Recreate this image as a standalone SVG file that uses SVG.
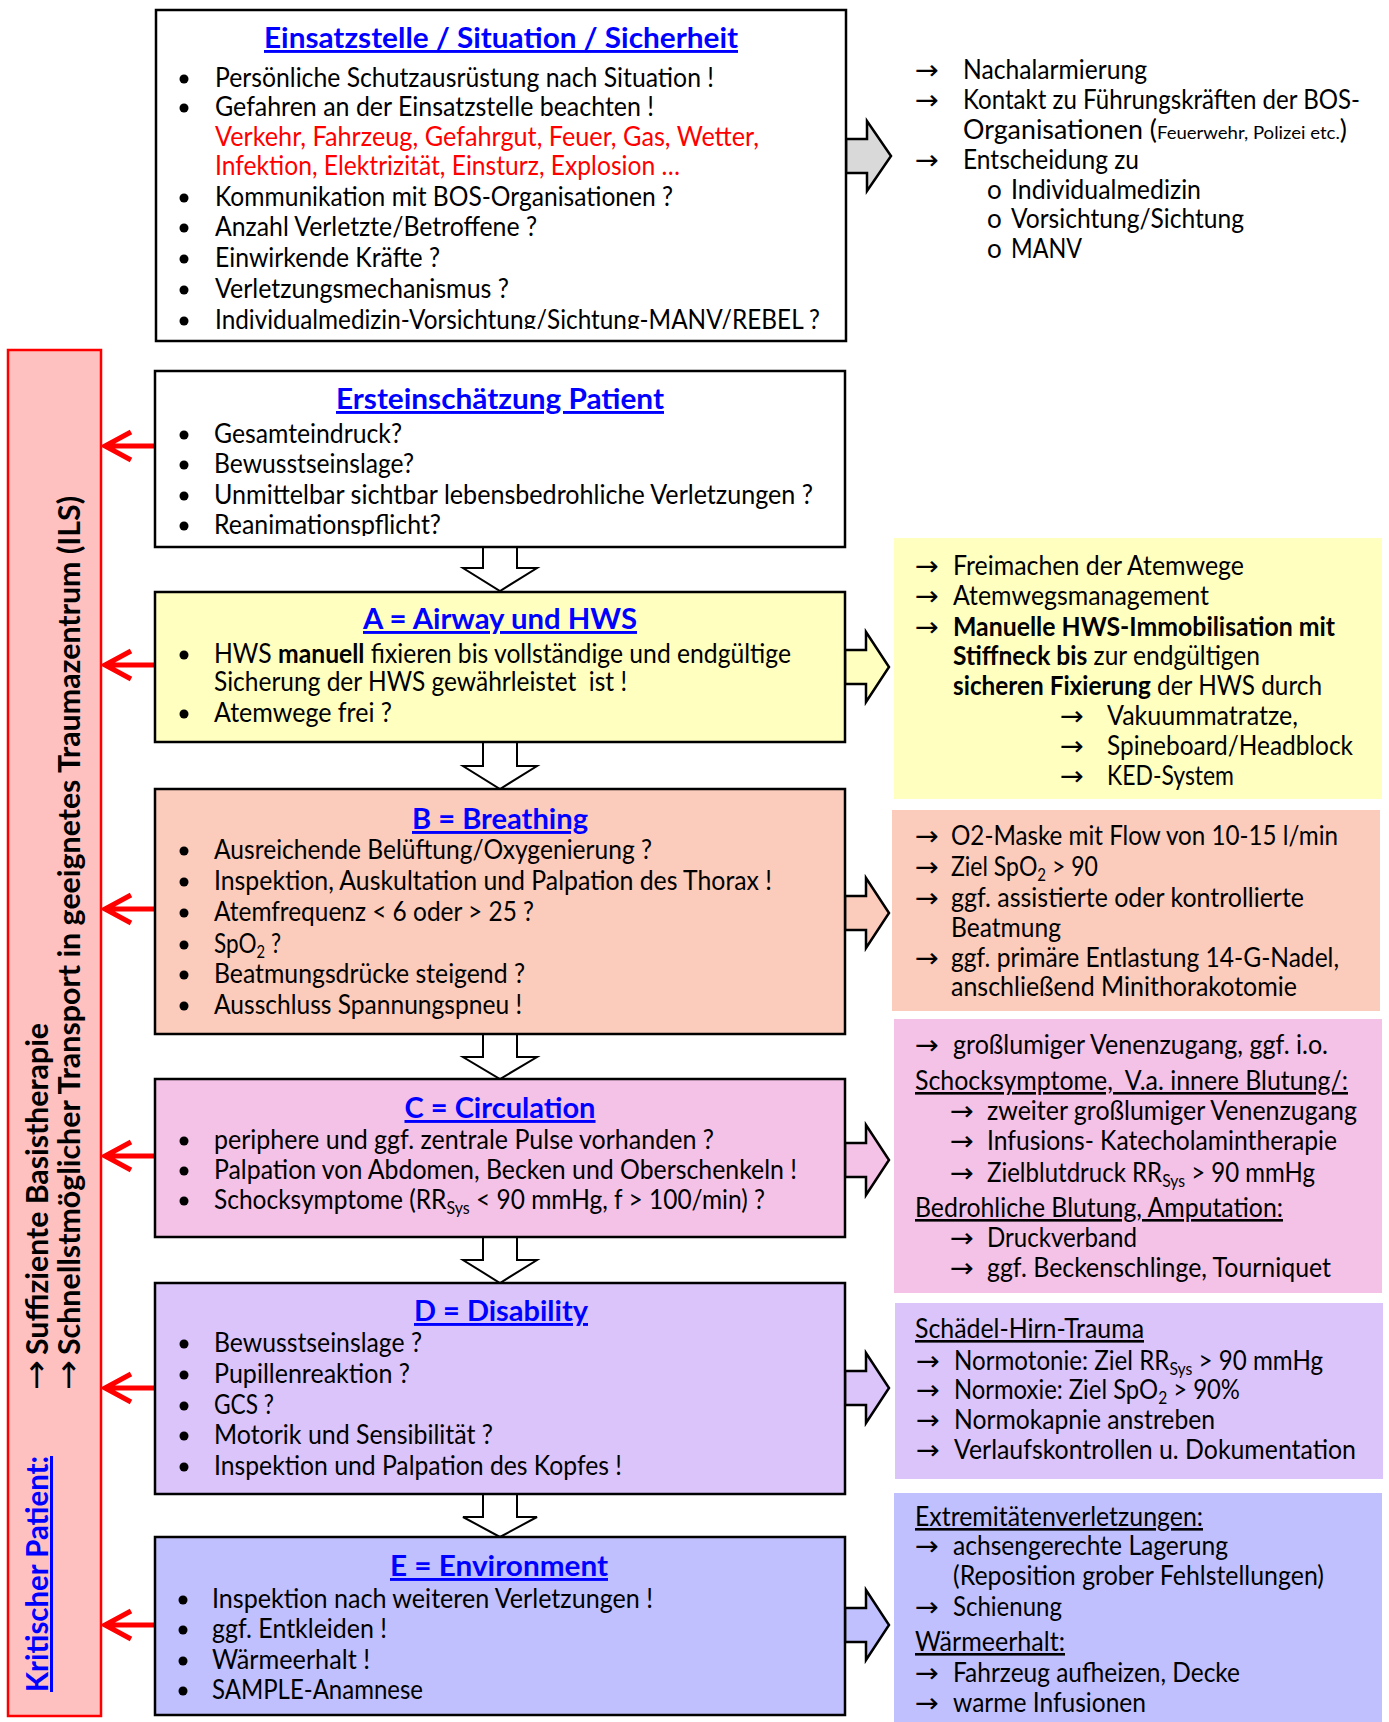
<svg xmlns="http://www.w3.org/2000/svg" width="1389" height="1722" viewBox="0 0 1389 1722">
<style>
.t{font-family:Lato,"Liberation Sans",sans-serif;font-size:26px;fill:#000}
.ti{font-family:Lato,"Liberation Sans",sans-serif;font-weight:bold;font-size:29px;fill:#0000FF;text-decoration:underline;text-anchor:middle}
.r{fill:#FF0000}
.b{font-weight:bold}
.u{text-decoration:underline}
.ar{font-family:"DejaVu Sans",sans-serif;font-size:27px;fill:#000}
.box{stroke:#000;stroke-width:2.5}
.da{fill:#fff;stroke:#000;stroke-width:2}
.ra{stroke:#000;stroke-width:2.5}
.red{stroke:#FF0000;stroke-width:5;fill:none}
.vt{font-family:Lato,"Liberation Sans",sans-serif;font-weight:bold;font-size:30px;fill:#000}
.bl{fill:#000}
</style>
<defs>
<clipPath id="c1"><rect x="156" y="10" width="690" height="319"/></clipPath>
<clipPath id="c2"><rect x="155" y="371" width="690" height="165"/></clipPath>
</defs>

<g id="bar">
<rect x="8" y="350" width="93" height="1366" fill="#FFC0C0" stroke="#FF0000" stroke-width="2.5"/>
<text class="vt u" transform="translate(48,1692) rotate(-90)" style="fill:#0000FF" textLength="236" lengthAdjust="spacingAndGlyphs">Kritischer Patient:</text>
<text class="ar" transform="translate(47,1390) rotate(-90)" style="font-size:32px" textLength="30" lengthAdjust="spacingAndGlyphs">→</text>
<text class="vt" transform="translate(48,1355) rotate(-90)" textLength="332" lengthAdjust="spacingAndGlyphs">Suffiziente Basistherapie</text>
<text class="ar" transform="translate(79,1390) rotate(-90)" style="font-size:32px" textLength="30" lengthAdjust="spacingAndGlyphs">→</text>
<text class="vt" transform="translate(80,1355) rotate(-90)" textLength="859" lengthAdjust="spacingAndGlyphs">Schnellstmöglicher Transport in geeignetes Traumazentrum (ILS)</text>
</g>

<g id="connectors">
<polygon class="ra" fill="#D9D9D9" points="846,139 867,139 867,121 891,156 867,191 867,173 846,173"/>
<polygon class="ra" fill="#FFFFC0" points="845,650 866,650 866,632 889,667 866,702 866,684 845,684"/>
<polygon class="ra" fill="#FBCBBB" points="845,896 866,896 866,878 889,913 866,948 866,930 845,930"/>
<polygon class="ra" fill="#F3C2E6" points="845,1143 866,1143 866,1125 889,1160 866,1195 866,1177 845,1177"/>
<polygon class="ra" fill="#DAC4FA" points="845,1371 866,1371 866,1353 889,1388 866,1423 866,1405 845,1405"/>
<polygon class="ra" fill="#C0C0FF" points="845,1608 866,1608 866,1590 889,1625 866,1660 866,1642 845,1642"/>
<polygon class="da" points="483,547 517,547 517,568 537,568 500,591 463,568 483,568"/>
<polygon class="da" points="483,742 517,742 517,766 537,766 500,789 463,766 483,766"/>
<polygon class="da" points="483,1034 517,1034 517,1057 537,1057 500,1079 463,1057 483,1057"/>
<polygon class="da" points="483,1237 517,1237 517,1260 537,1260 500,1283 463,1260 483,1260"/>
<polygon class="da" points="483,1494 517,1494 517,1517 537,1517 500,1537 463,1517 483,1517"/>
<path class="red" d="M155,446 H105 M131,432 L105,446 L131,460"/>
<path class="red" d="M155,665 H105 M131,651 L105,665 L131,679"/>
<path class="red" d="M155,909 H105 M131,895 L105,909 L131,923"/>
<path class="red" d="M155,1156 H105 M131,1142 L105,1156 L131,1170"/>
<path class="red" d="M155,1388 H105 M131,1374 L105,1388 L131,1402"/>
<path class="red" d="M155,1625 H105 M131,1611 L105,1625 L131,1639"/>
</g>

<g id="box-einsatzstelle">
<rect class="box" x="156" y="10" width="690" height="331" fill="#FFFFFF"/>
<text class="ti" x="501" y="48" textLength="474" lengthAdjust="spacingAndGlyphs">Einsatzstelle / Situation / Sicherheit</text>
<g clip-path="url(#c1)">
<circle class="bl" cx="184" cy="79" r="4.5"/><text class="t" x="215" y="87" textLength="499" lengthAdjust="spacingAndGlyphs">Persönliche Schutzausrüstung nach Situation !</text>
<circle class="bl" cx="184" cy="108" r="4.5"/><text class="t" x="215" y="116" textLength="439" lengthAdjust="spacingAndGlyphs">Gefahren an der Einsatzstelle beachten !</text>
<text class="t r" x="215" y="146" textLength="544" lengthAdjust="spacingAndGlyphs">Verkehr, Fahrzeug, Gefahrgut, Feuer, Gas, Wetter,</text>
<text class="t r" x="215" y="175" textLength="465" lengthAdjust="spacingAndGlyphs">Infektion, Elektrizität, Einsturz, Explosion …</text>
<circle class="bl" cx="184" cy="198" r="4.5"/><text class="t" x="215" y="206" textLength="458" lengthAdjust="spacingAndGlyphs">Kommunikation mit BOS-Organisationen ?</text>
<circle class="bl" cx="184" cy="228" r="4.5"/><text class="t" x="215" y="236" textLength="322" lengthAdjust="spacingAndGlyphs">Anzahl Verletzte/Betroffene ?</text>
<circle class="bl" cx="184" cy="259" r="4.5"/><text class="t" x="215" y="267" textLength="225" lengthAdjust="spacingAndGlyphs">Einwirkende Kräfte ?</text>
<circle class="bl" cx="184" cy="290" r="4.5"/><text class="t" x="215" y="298" textLength="294" lengthAdjust="spacingAndGlyphs">Verletzungsmechanismus ?</text>
<circle class="bl" cx="184" cy="321" r="4.5"/><text class="t" x="215" y="329" textLength="605" lengthAdjust="spacingAndGlyphs">Individualmedizin-Vorsichtung/Sichtung-MANV/REBEL ?</text>
</g>
</g>

<g id="list-einsatzstelle">
<text class="ar" x="915" y="79" textLength="24" lengthAdjust="spacingAndGlyphs">→</text><text class="t" x="963" y="79" textLength="184" lengthAdjust="spacingAndGlyphs">Nachalarmierung</text>
<text class="ar" x="915" y="109" textLength="24" lengthAdjust="spacingAndGlyphs">→</text><text class="t" x="963" y="109" textLength="397" lengthAdjust="spacingAndGlyphs">Kontakt zu Führungskräften der BOS-</text>
<text class="t" x="963" y="139" textLength="384" lengthAdjust="spacingAndGlyphs">Organisationen (<tspan style="font-size:18px">Feuerwehr, Polizei etc.</tspan>)</text>
<text class="ar" x="915" y="169" textLength="24" lengthAdjust="spacingAndGlyphs">→</text><text class="t" x="963" y="169" textLength="176" lengthAdjust="spacingAndGlyphs">Entscheidung zu</text>
<text class="t" x="987" y="199">o</text><text class="t" x="1011" y="199" textLength="190" lengthAdjust="spacingAndGlyphs">Individualmedizin</text>
<text class="t" x="987" y="228">o</text><text class="t" x="1011" y="228" textLength="233" lengthAdjust="spacingAndGlyphs">Vorsichtung/Sichtung</text>
<text class="t" x="987" y="258">o</text><text class="t" x="1011" y="258" textLength="71" lengthAdjust="spacingAndGlyphs">MANV</text>
</g>

<g id="box-ersteinschaetzung">
<rect class="box" x="155" y="371" width="690" height="176" fill="#FFFFFF"/>
<text class="ti" x="500" y="409" textLength="328" lengthAdjust="spacingAndGlyphs">Ersteinschätzung Patient</text>
<g clip-path="url(#c2)">
<circle class="bl" cx="184" cy="435" r="4.5"/><text class="t" x="214" y="443" textLength="188" lengthAdjust="spacingAndGlyphs">Gesamteindruck?</text>
<circle class="bl" cx="184" cy="465" r="4.5"/><text class="t" x="214" y="473" textLength="200" lengthAdjust="spacingAndGlyphs">Bewusstseinslage?</text>
<circle class="bl" cx="184" cy="496" r="4.5"/><text class="t" x="214" y="504" textLength="599" lengthAdjust="spacingAndGlyphs">Unmittelbar sichtbar lebensbedrohliche Verletzungen ?</text>
<circle class="bl" cx="184" cy="526" r="4.5"/><text class="t" x="214" y="534" textLength="227" lengthAdjust="spacingAndGlyphs">Reanimationspflicht?</text>
</g>
</g>

<g id="box-airway">
<rect class="box" x="155" y="592" width="690" height="150" fill="#FFFFC0"/>
<text class="ti" x="500" y="629" textLength="274" lengthAdjust="spacingAndGlyphs">A = Airway und HWS</text>
<circle class="bl" cx="184" cy="655" r="4.5"/><text class="t" x="214" y="663" textLength="577" lengthAdjust="spacingAndGlyphs">HWS <tspan class="b">manuell</tspan> fixieren bis vollständige und endgültige</text>
<text class="t" x="214" y="691" textLength="413" lengthAdjust="spacingAndGlyphs">Sicherung der HWS gewährleistet&#160; ist !</text>
<circle class="bl" cx="184" cy="714" r="4.5"/><text class="t" x="214" y="722" textLength="178" lengthAdjust="spacingAndGlyphs">Atemwege frei ?</text>
</g>

<g id="panel-airway">
<rect x="894" y="538" width="488" height="261" fill="#FFFFC0"/>
<text class="ar" x="915" y="575" textLength="24" lengthAdjust="spacingAndGlyphs">→</text><text class="t" x="953" y="575" textLength="291" lengthAdjust="spacingAndGlyphs">Freimachen der Atemwege</text>
<text class="ar" x="915" y="605" textLength="24" lengthAdjust="spacingAndGlyphs">→</text><text class="t" x="953" y="605" textLength="256" lengthAdjust="spacingAndGlyphs">Atemwegsmanagement</text>
<text class="ar" x="915" y="636" textLength="24" lengthAdjust="spacingAndGlyphs">→</text><text class="t b" x="953" y="636" textLength="382" lengthAdjust="spacingAndGlyphs">Manuelle HWS-Immobilisation mit</text>
<text class="t" x="953" y="665" textLength="307" lengthAdjust="spacingAndGlyphs"><tspan class="b">Stiffneck bis</tspan> zur endgültigen</text>
<text class="t" x="953" y="695" textLength="369" lengthAdjust="spacingAndGlyphs"><tspan class="b">sicheren Fixierung</tspan> der HWS durch</text>
<text class="ar" x="1060" y="725" textLength="24" lengthAdjust="spacingAndGlyphs">→</text><text class="t" x="1107" y="725" textLength="191" lengthAdjust="spacingAndGlyphs">Vakuummatratze,</text>
<text class="ar" x="1060" y="755" textLength="24" lengthAdjust="spacingAndGlyphs">→</text><text class="t" x="1107" y="755" textLength="246" lengthAdjust="spacingAndGlyphs">Spineboard/Headblock</text>
<text class="ar" x="1060" y="785" textLength="24" lengthAdjust="spacingAndGlyphs">→</text><text class="t" x="1107" y="785" textLength="127" lengthAdjust="spacingAndGlyphs">KED-System</text>
</g>

<g id="box-breathing">
<rect class="box" x="155" y="789" width="690" height="245" fill="#FBCBBB"/>
<text class="ti" x="500" y="829" textLength="176" lengthAdjust="spacingAndGlyphs">B = Breathing</text>
<circle class="bl" cx="184" cy="851" r="4.5"/><text class="t" x="214" y="859" textLength="438" lengthAdjust="spacingAndGlyphs">Ausreichende Belüftung/Oxygenierung ?</text>
<circle class="bl" cx="184" cy="882" r="4.5"/><text class="t" x="214" y="890" textLength="558" lengthAdjust="spacingAndGlyphs">Inspektion, Auskultation und Palpation des Thorax !</text>
<circle class="bl" cx="184" cy="913" r="4.5"/><text class="t" x="214" y="921" textLength="320" lengthAdjust="spacingAndGlyphs">Atemfrequenz &lt; 6 oder &gt; 25 ?</text>
<circle class="bl" cx="184" cy="945" r="4.5"/><text class="t" x="214" y="953" textLength="67" lengthAdjust="spacingAndGlyphs">SpO<tspan style="font-size:17px" dy="5">2</tspan><tspan dy="-5"> ?</tspan></text>
<circle class="bl" cx="184" cy="975" r="4.5"/><text class="t" x="214" y="983" textLength="311" lengthAdjust="spacingAndGlyphs">Beatmungsdrücke steigend ?</text>
<circle class="bl" cx="184" cy="1006" r="4.5"/><text class="t" x="214" y="1014" textLength="308" lengthAdjust="spacingAndGlyphs">Ausschluss Spannungspneu !</text>
</g>

<g id="panel-breathing">
<rect x="892" y="810" width="488" height="201" fill="#FBCBBB"/>
<text class="ar" x="915" y="845" textLength="24" lengthAdjust="spacingAndGlyphs">→</text><text class="t" x="951" y="845" textLength="387" lengthAdjust="spacingAndGlyphs">O2-Maske mit Flow von 10-15 l/min</text>
<text class="ar" x="915" y="876" textLength="24" lengthAdjust="spacingAndGlyphs">→</text><text class="t" x="951" y="876" textLength="147" lengthAdjust="spacingAndGlyphs">Ziel SpO<tspan style="font-size:17px" dy="5">2</tspan><tspan dy="-5"> &gt; 90</tspan></text>
<text class="ar" x="915" y="907" textLength="24" lengthAdjust="spacingAndGlyphs">→</text><text class="t" x="951" y="907" textLength="353" lengthAdjust="spacingAndGlyphs">ggf. assistierte oder kontrollierte</text>
<text class="t" x="951" y="937" textLength="110" lengthAdjust="spacingAndGlyphs">Beatmung</text>
<text class="ar" x="915" y="967" textLength="24" lengthAdjust="spacingAndGlyphs">→</text><text class="t" x="951" y="967" textLength="388" lengthAdjust="spacingAndGlyphs">ggf. primäre Entlastung 14-G-Nadel,</text>
<text class="t" x="951" y="996" textLength="346" lengthAdjust="spacingAndGlyphs">anschließend Minithorakotomie</text>
</g>

<g id="box-circulation">
<rect class="box" x="155" y="1079" width="690" height="158" fill="#F3C2E6"/>
<text class="ti" x="500" y="1118" textLength="191" lengthAdjust="spacingAndGlyphs">C = Circulation</text>
<circle class="bl" cx="184" cy="1141" r="4.5"/><text class="t" x="214" y="1149" textLength="500" lengthAdjust="spacingAndGlyphs">periphere und ggf. zentrale Pulse vorhanden ?</text>
<circle class="bl" cx="184" cy="1171" r="4.5"/><text class="t" x="214" y="1179" textLength="583" lengthAdjust="spacingAndGlyphs">Palpation von Abdomen, Becken und Oberschenkeln !</text>
<circle class="bl" cx="184" cy="1201" r="4.5"/><text class="t" x="214" y="1209" textLength="551" lengthAdjust="spacingAndGlyphs">Schocksymptome (RR<tspan style="font-size:17px" dy="5">Sys</tspan><tspan dy="-5"> &lt; 90 mmHg, f &gt; 100/min) ?</tspan></text>
</g>

<g id="panel-circulation">
<rect x="894" y="1019" width="488" height="274" fill="#F3C2E6"/>
<text class="ar" x="915" y="1054" textLength="24" lengthAdjust="spacingAndGlyphs">→</text><text class="t" x="953" y="1054" textLength="375" lengthAdjust="spacingAndGlyphs">großlumiger Venenzugang, ggf. i.o.</text>
<text class="t u" x="915" y="1090" textLength="433" lengthAdjust="spacingAndGlyphs">Schocksymptome,&#160; V.a. innere Blutung/:</text>
<text class="ar" x="950" y="1120" textLength="24" lengthAdjust="spacingAndGlyphs">→</text><text class="t" x="987" y="1120" textLength="370" lengthAdjust="spacingAndGlyphs">zweiter großlumiger Venenzugang</text>
<text class="ar" x="950" y="1150" textLength="24" lengthAdjust="spacingAndGlyphs">→</text><text class="t" x="987" y="1150" textLength="350" lengthAdjust="spacingAndGlyphs">Infusions- Katecholamintherapie</text>
<text class="ar" x="950" y="1182" textLength="24" lengthAdjust="spacingAndGlyphs">→</text><text class="t" x="987" y="1182" textLength="328" lengthAdjust="spacingAndGlyphs">Zielblutdruck RR<tspan style="font-size:17px" dy="5">Sys</tspan><tspan dy="-5"> &gt; 90 mmHg</tspan></text>
<text class="t u" x="915" y="1217" textLength="368" lengthAdjust="spacingAndGlyphs">Bedrohliche Blutung, Amputation:</text>
<text class="ar" x="950" y="1247" textLength="24" lengthAdjust="spacingAndGlyphs">→</text><text class="t" x="987" y="1247" textLength="150" lengthAdjust="spacingAndGlyphs">Druckverband</text>
<text class="ar" x="950" y="1277" textLength="24" lengthAdjust="spacingAndGlyphs">→</text><text class="t" x="987" y="1277" textLength="344" lengthAdjust="spacingAndGlyphs">ggf. Beckenschlinge, Tourniquet</text>
</g>

<g id="box-disability">
<rect class="box" x="155" y="1283" width="690" height="211" fill="#DAC4FA"/>
<text class="ti" x="501" y="1321" textLength="174" lengthAdjust="spacingAndGlyphs">D = Disability</text>
<circle class="bl" cx="184" cy="1344" r="4.5"/><text class="t" x="214" y="1352" textLength="208" lengthAdjust="spacingAndGlyphs">Bewusstseinslage ?</text>
<circle class="bl" cx="184" cy="1375" r="4.5"/><text class="t" x="214" y="1383" textLength="196" lengthAdjust="spacingAndGlyphs">Pupillenreaktion ?</text>
<circle class="bl" cx="184" cy="1406" r="4.5"/><text class="t" x="214" y="1414" textLength="60" lengthAdjust="spacingAndGlyphs">GCS ?</text>
<circle class="bl" cx="184" cy="1436" r="4.5"/><text class="t" x="214" y="1444" textLength="279" lengthAdjust="spacingAndGlyphs">Motorik und Sensibilität ?</text>
<circle class="bl" cx="184" cy="1467" r="4.5"/><text class="t" x="214" y="1475" textLength="408" lengthAdjust="spacingAndGlyphs">Inspektion und Palpation des Kopfes !</text>
</g>

<g id="panel-disability">
<rect x="895" y="1303" width="488" height="176" fill="#DAC4FA"/>
<text class="t u" x="915" y="1338" textLength="229" lengthAdjust="spacingAndGlyphs">Schädel-Hirn-Trauma</text>
<text class="ar" x="916" y="1370" textLength="24" lengthAdjust="spacingAndGlyphs">→</text><text class="t" x="954" y="1370" textLength="369" lengthAdjust="spacingAndGlyphs">Normotonie: Ziel RR<tspan style="font-size:17px" dy="5">Sys</tspan><tspan dy="-5"> &gt; 90 mmHg</tspan></text>
<text class="ar" x="916" y="1399" textLength="24" lengthAdjust="spacingAndGlyphs">→</text><text class="t" x="954" y="1399" textLength="286" lengthAdjust="spacingAndGlyphs">Normoxie: Ziel SpO<tspan style="font-size:17px" dy="5">2</tspan><tspan dy="-5"> &gt; 90%</tspan></text>
<text class="ar" x="916" y="1429" textLength="24" lengthAdjust="spacingAndGlyphs">→</text><text class="t" x="954" y="1429" textLength="261" lengthAdjust="spacingAndGlyphs">Normokapnie anstreben</text>
<text class="ar" x="916" y="1459" textLength="24" lengthAdjust="spacingAndGlyphs">→</text><text class="t" x="954" y="1459" textLength="402" lengthAdjust="spacingAndGlyphs">Verlaufskontrollen u. Dokumentation</text>
</g>

<g id="box-environment">
<rect class="box" x="155" y="1537" width="690" height="178" fill="#C0C0FF"/>
<text class="ti" x="499" y="1576" textLength="218" lengthAdjust="spacingAndGlyphs">E = Environment</text>
<circle class="bl" cx="183" cy="1600" r="4.5"/><text class="t" x="212" y="1608" textLength="441" lengthAdjust="spacingAndGlyphs">Inspektion nach weiteren Verletzungen !</text>
<circle class="bl" cx="183" cy="1630" r="4.5"/><text class="t" x="212" y="1638" textLength="175" lengthAdjust="spacingAndGlyphs">ggf. Entkleiden !</text>
<circle class="bl" cx="183" cy="1661" r="4.5"/><text class="t" x="212" y="1669" textLength="158" lengthAdjust="spacingAndGlyphs">Wärmeerhalt !</text>
<circle class="bl" cx="183" cy="1691" r="4.5"/><text class="t" x="212" y="1699" textLength="211" lengthAdjust="spacingAndGlyphs">SAMPLE-Anamnese</text>
</g>

<g id="panel-environment">
<rect x="894" y="1493" width="488" height="229" fill="#C0C0FF"/>
<text class="t u" x="915" y="1526" textLength="288" lengthAdjust="spacingAndGlyphs">Extremitätenverletzungen:</text>
<text class="ar" x="915" y="1555" textLength="24" lengthAdjust="spacingAndGlyphs">→</text><text class="t" x="953" y="1555" textLength="275" lengthAdjust="spacingAndGlyphs">achsengerechte Lagerung</text>
<text class="t" x="953" y="1585" textLength="371" lengthAdjust="spacingAndGlyphs">(Reposition grober Fehlstellungen)</text>
<text class="ar" x="915" y="1616" textLength="24" lengthAdjust="spacingAndGlyphs">→</text><text class="t" x="953" y="1616" textLength="109" lengthAdjust="spacingAndGlyphs">Schienung</text>
<text class="t u" x="915" y="1651" textLength="150" lengthAdjust="spacingAndGlyphs">Wärmeerhalt:</text>
<text class="ar" x="915" y="1682" textLength="24" lengthAdjust="spacingAndGlyphs">→</text><text class="t" x="953" y="1682" textLength="287" lengthAdjust="spacingAndGlyphs">Fahrzeug aufheizen, Decke</text>
<text class="ar" x="915" y="1712" textLength="24" lengthAdjust="spacingAndGlyphs">→</text><text class="t" x="953" y="1712" textLength="193" lengthAdjust="spacingAndGlyphs">warme Infusionen</text>
</g>
</svg>
